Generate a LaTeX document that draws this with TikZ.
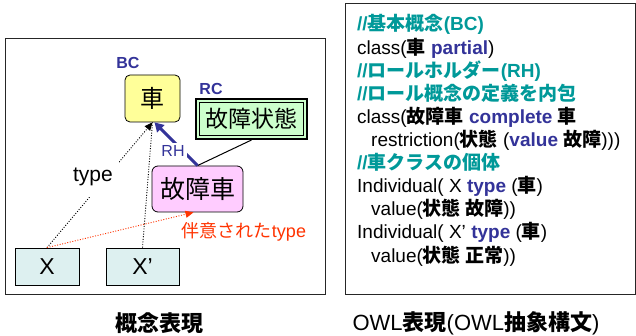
\documentclass[tikz,border=0pt]{standalone}
\usepackage{fontspec}
\setmainfont{Liberation Sans}[Ligatures=TeXOff]
\newfontfamily\cjk{Noto Sans CJK JP}
\usetikzlibrary{arrows.meta}
\definecolor{cteal}{HTML}{009999}
\definecolor{cblue}{HTML}{333399}
\definecolor{cred}{HTML}{FF3300}
\definecolor{cyellow}{HTML}{FFFF99}
\definecolor{cgreen}{HTML}{CCFFCC}
\definecolor{cpink}{HTML}{FFCCFF}
\definecolor{ccyan}{HTML}{DDF0F0}
\newcommand\J[1]{{\cjk #1}}
\newcommand\JB[1]{{\cjk\bfseries #1}}
\newcommand\cmt[1]{{\color{cteal}\bfseries #1}}
\newcommand\kw[1]{{\color{cblue}\bfseries #1}}
\tikzset{
  box/.style={draw=black, line width=0.8pt, inner sep=0pt, align=center},
  lbl/.style={text=cblue, font=\fontsize{16}{16}\selectfont\bfseries, inner sep=0pt},
  codeline/.style={anchor=base west, inner sep=0pt, font=\fontsize{19}{23}\selectfont},
  dotline/.style={line width=0.9pt, dash pattern=on 1pt off 1.6pt},
  headtip/.style={-{Triangle[length=8pt,width=7pt]}},
  frame/.style={draw=black!85, line width=1pt}
}
\begin{document}
\begin{tikzpicture}[x=1pt,y=-1pt]
\useasboundingbox (0,0) rectangle (636,336);
\fill[white] (0,0) rectangle (636,336);
% frames
\draw[frame] (5.5,38.5) rectangle (325,294.5);
\draw[frame] (345.5,3.5) rectangle (635,294.5);

% left diagram nodes
\node[box, rounded corners=5pt, fill=cyellow, minimum width=55pt, minimum height=47pt,
      font=\fontsize{24}{24}\selectfont] (car) at (152.5,98.5) {\J{車}};
\node[lbl] (bc) at (128,63) {BC};
\node[draw=black, line width=2pt, fill=cgreen, inner sep=0pt, minimum width=111pt, minimum height=40pt,
      font=\fontsize{23}{23}\selectfont] (state) at (251.5,119) {\J{故障状態}};
\draw[line width=0.7pt] ([xshift=4.5pt,yshift=-4.5pt]state.north west) rectangle ([xshift=-4.5pt,yshift=4.5pt]state.south east);
\node[lbl] (rc) at (211,89) {RC};
\node[box, rounded corners=6pt, fill=cpink, minimum width=91pt, minimum height=46pt,
      font=\fontsize{25}{25}\selectfont] (fault) at (197.5,189) {\J{故障車}};
\node[box, fill=ccyan, minimum width=64pt, minimum height=37pt,
      font=\fontsize{23}{23}\selectfont] (x1) at (47,266.5) {X};
\node[box, fill=ccyan, minimum width=73pt, minimum height=37pt,
      font=\fontsize{23}{23}\selectfont] (x2) at (142.5,266.5) {X’};

% connectors
\draw[line width=1pt] (fault.north) -- (state.south);
\draw[cblue, line width=3pt, -{Triangle[length=9pt,width=10pt]}] (fault.north) -- ([xshift=2pt]car.south);
\node[text=cblue, fill=white, inner sep=2.5pt, font=\fontsize{16}{16}\selectfont] (rh) at (173,151) {RH};
\draw[dotline, headtip] (x1.north) -- (car.south);
\draw[dotline] (x2.north) -- (car.south);
\node[fill=white, inner xsep=6pt, inner ysep=0pt, minimum height=40pt,
      font=\fontsize{21}{21}\selectfont] (ty) at (93,177) {type};
\draw[cred, dotline, headtip] (x1.north) -- ([xshift=-4pt]fault.south);
\node[text=cred, inner sep=0pt, font=\fontsize{18}{18}\selectfont] (arb) at (244,232) {\J{伴意された}type};

% OWL code
\node[codeline] (l1) at (357,31) {\cmt{//\J{基本概念}(BC)}};
\node[codeline] (l2) at (357,54.1) {class(\JB{車} \kw{partial})};
\node[codeline] (l3) at (357,77.2) {\cmt{//\J{ロールホルダー}(RH)}};
\node[codeline] (l4) at (357,100.3) {\cmt{//\J{ロール概念の定義を内包}}};
\node[codeline] (l5) at (357,123.4) {class(\JB{故障車} \kw{complete} \JB{車}};
\node[codeline] (l6) at (371,146.5) {restriction(\JB{状態} (\kw{value} \JB{故障})))};
\node[codeline] (l7) at (357,169.6) {\cmt{//\J{車クラスの個体}}};
\node[codeline] (l8) at (357,192.7) {Individual( X \kw{type} (\JB{車})};
\node[codeline] (l9) at (371,215.8) {value(\JB{状態 故障}))};
\node[codeline] (l10) at (357,238.9) {Individual( X’ \kw{type} (\JB{車})};
\node[codeline] (l11) at (371,262) {value(\JB{状態 正常}))};

% captions
\node[inner sep=0pt, font=\fontsize{22}{22}\selectfont] (cap1) at (159,323) {\JB{概念表現}};
\node[inner sep=0pt, font=\fontsize{22}{22}\selectfont] (cap2) at (476,323) {OWL\JB{表現}(OWL\JB{抽象構文})};
\end{tikzpicture}
\end{document}
